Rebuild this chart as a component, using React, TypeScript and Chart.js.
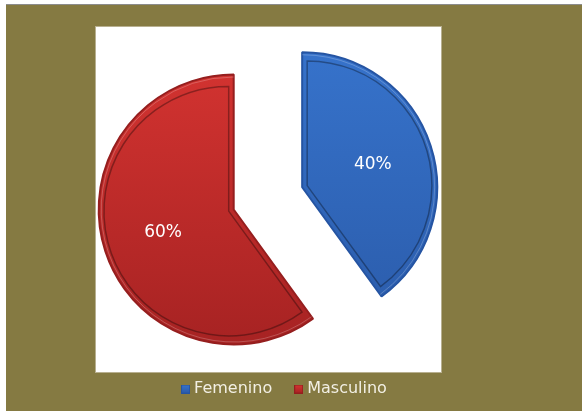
import React, { useEffect, useRef } from "react";
import { Chart, registerables } from "chart.js";

Chart.register(...registerables);

const categories = ["Femenino", "Masculino"];
const values = [40, 60];
const valueLabels = ["40%", "60%"];
const legendColors = ["#3470C8", "#C42C2A"];
const topColors = ["#3774CD", "#D83532"];
const bottomColors = ["#2A5AA8", "#A52222"];
const borderColors = ["#2554A2", "#951E1E"];
const explode = [17, 55];

const explodePlugin = {
  id: "explodeSlices",
  afterDatasetsUpdate(chart: any) {
    const meta = chart.getDatasetMeta(0);
    meta.data.forEach((arc: any, i: number) => {
      const mid = (arc.startAngle + arc.endAngle) / 2;
      arc.x += Math.cos(mid) * explode[i];
      arc.y += Math.sin(mid) * explode[i];
    });
  },
};

const bevelAndLabels = {
  id: "bevelAndLabels",
  afterDatasetsDraw(chart: any) {
    const ctx = chart.ctx;
    const meta = chart.getDatasetMeta(0);
    meta.data.forEach((arc: any, i: number) => {
      const { x, y, startAngle, endAngle, outerRadius } = arc;
      const mid = (startAngle + endAngle) / 2;
      const half = (endAngle - startAngle) / 2;
      const inset = 5;
      const s = inset / Math.sin(half);
      const ax = x + Math.cos(mid) * s;
      const ay = y + Math.sin(mid) * s;
      const r2 = outerRadius - inset - s;
      ctx.save();
      ctx.beginPath();
      ctx.moveTo(ax, ay);
      ctx.arc(ax, ay, r2, startAngle, endAngle);
      ctx.closePath();
      ctx.lineWidth = 1.5;
      ctx.strokeStyle = "rgba(0,0,0,0.33)";
      ctx.stroke();
      ctx.beginPath();
      ctx.arc(x, y, outerRadius - 2.5, startAngle, endAngle);
      ctx.lineWidth = 1;
      ctx.strokeStyle = "rgba(255,255,255,0.22)";
      ctx.stroke();
      ctx.restore();

      const k = 0.55 * outerRadius;
      const lx = x + Math.cos(mid) * k;
      const ly = y + Math.sin(mid) * k;
      ctx.save();
      ctx.fillStyle = "#FFFFFF";
      ctx.font = "17px 'DejaVu Sans'";
      ctx.textAlign = "center";
      ctx.textBaseline = "middle";
      ctx.fillText(valueLabels[i], lx, ly);
      ctx.restore();
    });
  },
};

function makeSwatch(i: number) {
  const c = document.createElement("canvas");
  c.width = 9;
  c.height = 9;
  const g = c.getContext("2d")!;
  const grad = g.createLinearGradient(0, 0, 0, 9);
  grad.addColorStop(0, topColors[i]);
  grad.addColorStop(1, bottomColors[i]);
  g.fillStyle = grad;
  g.fillRect(0, 0, 9, 9);
  g.strokeStyle = borderColors[i];
  g.lineWidth = 1;
  g.strokeRect(0.5, 0.5, 8, 8);
  return c;
}

export default function App() {
  const canvasRef = useRef<HTMLCanvasElement | null>(null);

  useEffect(() => {
    if (!canvasRef.current) return;
    const swatches = categories.map((_, i) => makeSwatch(i));
    const chart = new Chart(canvasRef.current, {
      type: "pie",
      data: {
        labels: categories,
        datasets: [
          {
            data: values,
            backgroundColor: (c: any) => {
              const i = c.dataIndex;
              const area = c.chart.chartArea;
              if (!area) return legendColors[i];
              const g = c.chart.ctx.createLinearGradient(0, area.top, 0, area.bottom);
              g.addColorStop(0, topColors[i]);
              g.addColorStop(1, bottomColors[i]);
              return g;
            },
            borderColor: borderColors,
            borderWidth: 2,
            offset: 0,
          },
        ],
      },
      options: {
        responsive: false,
        animation: false,
        events: [],
        radius: 135,
        layout: { padding: { left: 0, right: 10, top: 30, bottom: 4 } },
        plugins: {
          tooltip: { enabled: false },
          legend: {
            position: "bottom",
            maxHeight: 54,
            labels: {
              usePointStyle: true,
              pointStyleWidth: 1,
              boxWidth: 9,
              boxHeight: 9,
              padding: 26,
              color: "#F2EFE4",
              font: { family: "'DejaVu Sans'", size: 16 },
              generateLabels: () =>
                categories.map((t, i) => ({
                  text: t,
                  fillStyle: legendColors[i],
                  strokeStyle: borderColors[i],
                  pointStyle: swatches[i],
                  lineWidth: 1,
                  hidden: false,
                  index: i,
                  fontColor: "#F2EFE4",
                })),
            },
          },
        },
      } as any,
      plugins: [explodePlugin, bevelAndLabels],
    });
    return () => chart.destroy();
  }, []);

  return (
    <div style={{ position: "absolute", left: 0, top: 0, width: 582, height: 411, background: "#FFFFFF", overflow: "hidden" }}>
      <div style={{ position: "absolute", left: 6, top: 4, width: 576, height: 406, background: "#857A42", borderTop: "1px solid #8C8C8C" }} />
      <div style={{ position: "absolute", left: 96, top: 27, width: 345, height: 345, background: "#FFFFFF", boxShadow: "0 0 0 1px #B8B090" }} />
      <canvas ref={canvasRef} width={582} height={411} style={{ position: "absolute", left: 0, top: 0, width: 582, height: 411 }} />
    </div>
  );
}
